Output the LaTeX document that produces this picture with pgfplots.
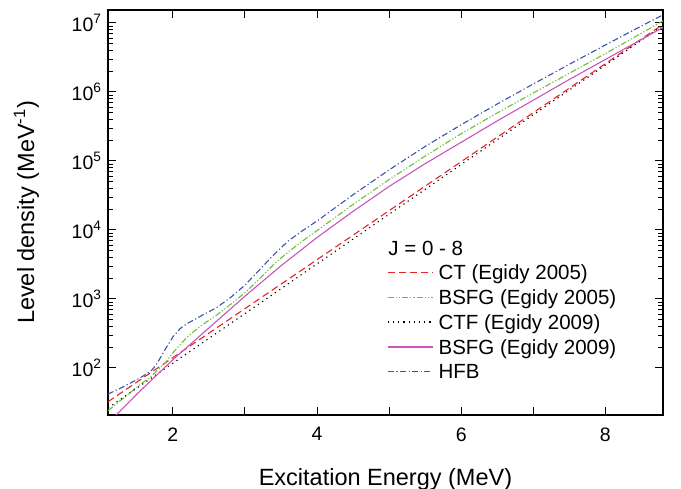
\documentclass[border=0pt]{standalone}
\usepackage{pgfplots}
\pgfplotsset{compat=1.18}
\usepackage{fontspec}
\setmainfont{Liberation Sans}
\definecolor{cred}{RGB}{232,35,40}
\definecolor{cgreen}{RGB}{110,190,60}
\definecolor{cmag}{RGB}{200,85,190}
\definecolor{cblue}{RGB}{55,85,170}
\begin{document}
\begin{tikzpicture}
\useasboundingbox (-108pt,-74pt) rectangle (573pt,415pt);
\begin{axis}[
  at={(0,0)}, anchor=south west,
  scale only axis, width=555pt, height=405pt,
  xmin=1.1, xmax=8.8,
  ymode=log, ymin=20.8, ymax=1.54e7,
  xtick={2,3,4,5,6,7,8}, xticklabels={2,,4,,6,,8},
  ytick={1e2,1e3,1e4,1e5,1e6,1e7},
  yticklabels={10\textsuperscript{2},10\textsuperscript{3},10\textsuperscript{4},10\textsuperscript{5},10\textsuperscript{6},10\textsuperscript{7}},
  /pgf/number format/assume math mode=true,
  tick align=inside,
  major tick length=8pt, minor tick length=5pt,
  axis line style={line width=1.2pt},
  every tick/.style={black, line width=0.9pt},
  tick label style={font=\fontsize{19.5}{22}\selectfont},
  xticklabel style={yshift=-9pt},
  yticklabel style={xshift=-3pt},
  xlabel={Excitation Energy (MeV)},
  ylabel={Level density (MeV\textsuperscript{-1})},
  label style={font=\fontsize{23.5}{27}\selectfont},
  xlabel style={at={(axis description cs:0.5,-0.158)}, anchor=center},
  ylabel style={at={(axis description cs:-0.147,0.5)}, anchor=center},
  legend style={at={(rel axis cs:0.5027,0.374)}, anchor=north west, draw=none, fill=none,
    font=\fontsize{20.5}{24}\selectfont, row sep=6.5pt, column sep=4pt, inner sep=0pt,
    nodes={inner sep=1pt}},
  legend cell align=left,
  legend image code/.code={\draw[#1, line width=1.4pt] (0pt,0.5pt) -- (45pt,0.5pt);},
  every axis plot/.append style={line width=1.1pt},
]
\addplot[color=cred, dash pattern=on 7pt off 4pt] coordinates {
 (1.1,32.4) (2.0,141) (3.0,723) (4.0,3707) (5.0,19010) (6.0,97500) (7.0,500000) (8.0,2565000) (8.8,9550000)};
\addlegendentry{CT (Egidy 2005)}
\addplot[color=cgreen, dash pattern=on 6pt off 2pt on 1.2pt off 2pt on 1.2pt off 2pt] coordinates {
 (1.1,24.0) (1.3,35.5) (1.5,52.5) (1.7,75.9) (1.9,120.2) (2.0,166) (2.2,281.8) (2.4,416.9) (2.6,575.4) (2.8,831.8) (3.0,1230) (3.2,1950) (3.4,3162) (3.6,4786) (3.8,6918) (4.0,9772) (4.5,23440) (5.0,53700) (5.5,117500) (6.0,248300) (6.5,495500) (7.0,966100) (7.5,1862000) (8.0,3589000) (8.5,7079000) (8.8,10720000)};
\addlegendentry{BSFG (Egidy 2005)}
\addplot[color=black, dash pattern=on 1.2pt off 4pt] coordinates {
 (1.1,26.3) (2.0,117) (3.0,614) (4.0,3221) (5.0,16900) (6.0,88720) (7.0,465600) (8.0,2443000) (8.8,9204000)};
\addlegendentry{CTF (Egidy 2009)}
\addplot[color=cmag] coordinates {
 (1.15,17.8) (1.5,41.7) (2.0,131.8) (2.5,380) (3.0,1096) (3.5,3020) (4.0,7762) (4.5,18620) (5.0,42660) (5.5,91200) (6.0,186200) (6.5,380200) (7.0,758600) (7.5,1514000) (8.0,2951000) (8.5,5754000) (8.8,8610000)};
\addlegendentry{BSFG (Egidy 2009)}
\addplot[color=cblue, dash pattern=on 6pt off 2.5pt on 1.2pt off 2.5pt] coordinates {
 (1.1,41.7) (1.3,52.5) (1.5,67.6) (1.6,77.6) (1.7,91.2) (1.75,104.7) (1.8,125.9) (1.9,190.5) (2.0,281.8) (2.1,371.5) (2.2,441.6) (2.3,501) (2.4,575) (2.6,741) (2.8,1047) (3.0,1585) (3.2,2630) (3.4,4365) (3.6,6918) (3.8,9772) (4.0,13490) (4.5,32360) (5.0,74130) (5.5,162200) (6.0,335000) (6.5,668300) (7.0,1303000) (7.5,2512000) (8.0,4786000) (8.5,9016000) (8.8,13090000)};
\addlegendentry{HFB}
\node[anchor=base west, inner sep=0pt, font=\fontsize{20.5}{24}\selectfont] at (rel axis cs:0.505,0.3926) {J = 0 - 8};
\end{axis}
\end{tikzpicture}
\end{document}
